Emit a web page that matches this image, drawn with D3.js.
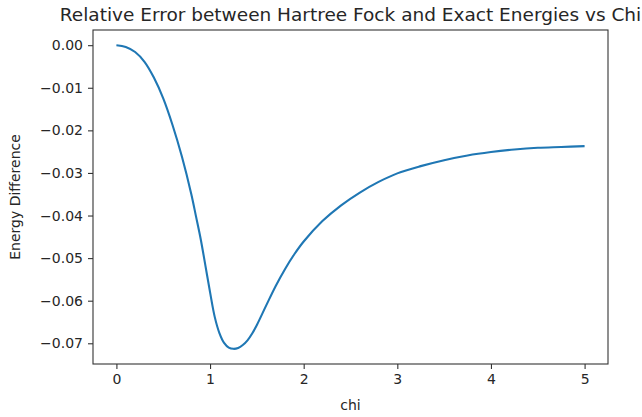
<!DOCTYPE html>
<meta charset="utf-8" />
<title>Relative Error vs Chi</title>
<script src="https://d3js.org/d3.v7.min.js"></script>
<style>
    body {
        margin: 0;
        background: #fff;
    }
    text {
        font-family: 'DejaVu Sans', sans-serif;
        fill: #262626;
    }
    .axis text {
        font-size: 14px;
    }
    .axis path,
    .axis line {
        stroke: #333;
        stroke-width: 1.1px;
    }
</style>
<div id="chart"></div>
<script>
// chi values and energy difference
var chi = [0, 0.1, 0.2, 0.3, 0.4, 0.5, 0.6, 0.7, 0.8, 0.85, 0.9, 0.95, 1.0, 1.05, 1.1, 1.15, 1.2, 1.25,
    1.3, 1.35, 1.4, 1.45, 1.5, 1.6, 1.7, 1.8, 1.9, 2.0, 2.2, 2.4, 2.6, 2.8, 3.0, 3.25, 3.5, 3.75,
    4.0, 4.25, 4.5, 4.75, 5.0];
var energyDiff = [0, -0.0004, -0.0016, -0.0039, -0.0076, -0.0125, -0.0188, -0.0262, -0.0350, -0.0402,
    -0.0455, -0.0517, -0.0580, -0.0638, -0.0676, -0.0699, -0.0710, -0.0713,
    -0.0711, -0.0704, -0.0693, -0.0677, -0.0657, -0.0611, -0.0566, -0.0526, -0.0491, -0.0461,
    -0.0413, -0.0376, -0.0346, -0.0321, -0.0301, -0.0284, -0.0270, -0.0259,
    -0.0251, -0.0245, -0.0241, -0.0239, -0.0237];
var xTicks = [0, 1, 2, 3, 4, 5];
var yTicks = [0, -0.01, -0.02, -0.03, -0.04, -0.05, -0.06, -0.07];

var margin = { top: 30, right: 34, bottom: 53, left: 93 },
    width = 642 - margin.left - margin.right,
    height = 417 - margin.top - margin.bottom;

var data = chi.map(function(c, i) { return { chi: c, value: energyDiff[i] }; });

// matplotlib style 5% margins
var xExt = d3.extent(chi), yExt = d3.extent(energyDiff);
var xPad = (xExt[1] - xExt[0]) * 0.05, yPad = (yExt[1] - yExt[0]) * 0.05;
var x = d3.scaleLinear().domain([xExt[0] - xPad, xExt[1] + xPad]).range([0, width]);
var y = d3.scaleLinear().domain([yExt[0] - yPad, yExt[1] + yPad]).range([height, 0]);

var svg = d3.select("#chart").append("svg")
    .attr("width", 642)
    .attr("height", 417);

var g = svg.append("g")
    .attr("transform", "translate(" + margin.left + "," + margin.top + ")");

g.append("path")
    .datum(data)
    .attr("fill", "none")
    .attr("stroke", "#1f77b4")
    .attr("stroke-width", 2.1)
    .attr("stroke-linejoin", "round")
    .attr("d", d3.line()
        .curve(d3.curveCatmullRom.alpha(0.5))
        .x(function(d) { return x(d.chi); })
        .y(function(d) { return y(d.value); }));

var fmtY = function(d) { return d3.format(".2f")(d).replace("-", "\u2212"); };

g.append("g")
    .attr("class", "axis")
    .attr("transform", "translate(0," + height + ")")
    .call(d3.axisBottom(x).tickValues(xTicks).tickFormat(d3.format("d")).tickSize(5).tickSizeOuter(0).tickPadding(5));

g.append("g")
    .attr("class", "axis")
    .call(d3.axisLeft(y).tickValues(yTicks).tickFormat(fmtY).tickSize(5).tickSizeOuter(0).tickPadding(5));

// frame
g.append("rect")
    .attr("width", width)
    .attr("height", height)
    .attr("fill", "none")
    .attr("stroke", "#333")
    .attr("stroke-width", 1.1);

g.selectAll(".axis .domain").remove();

svg.append("text")
    .attr("x", margin.left + width / 2)
    .attr("y", 21)
    .attr("text-anchor", "middle")
    .style("font-size", "18.5px")
    .text("Relative Error between Hartree Fock and Exact Energies vs Chi");

svg.append("text")
    .attr("x", margin.left + width / 2)
    .attr("y", 410)
    .attr("text-anchor", "middle")
    .style("font-size", "14px")
    .text("chi");

svg.append("text")
    .attr("transform", "translate(20," + (margin.top + height / 2) + ") rotate(-90)")
    .attr("text-anchor", "middle")
    .style("font-size", "14px")
    .text("Energy Difference");
</script>
